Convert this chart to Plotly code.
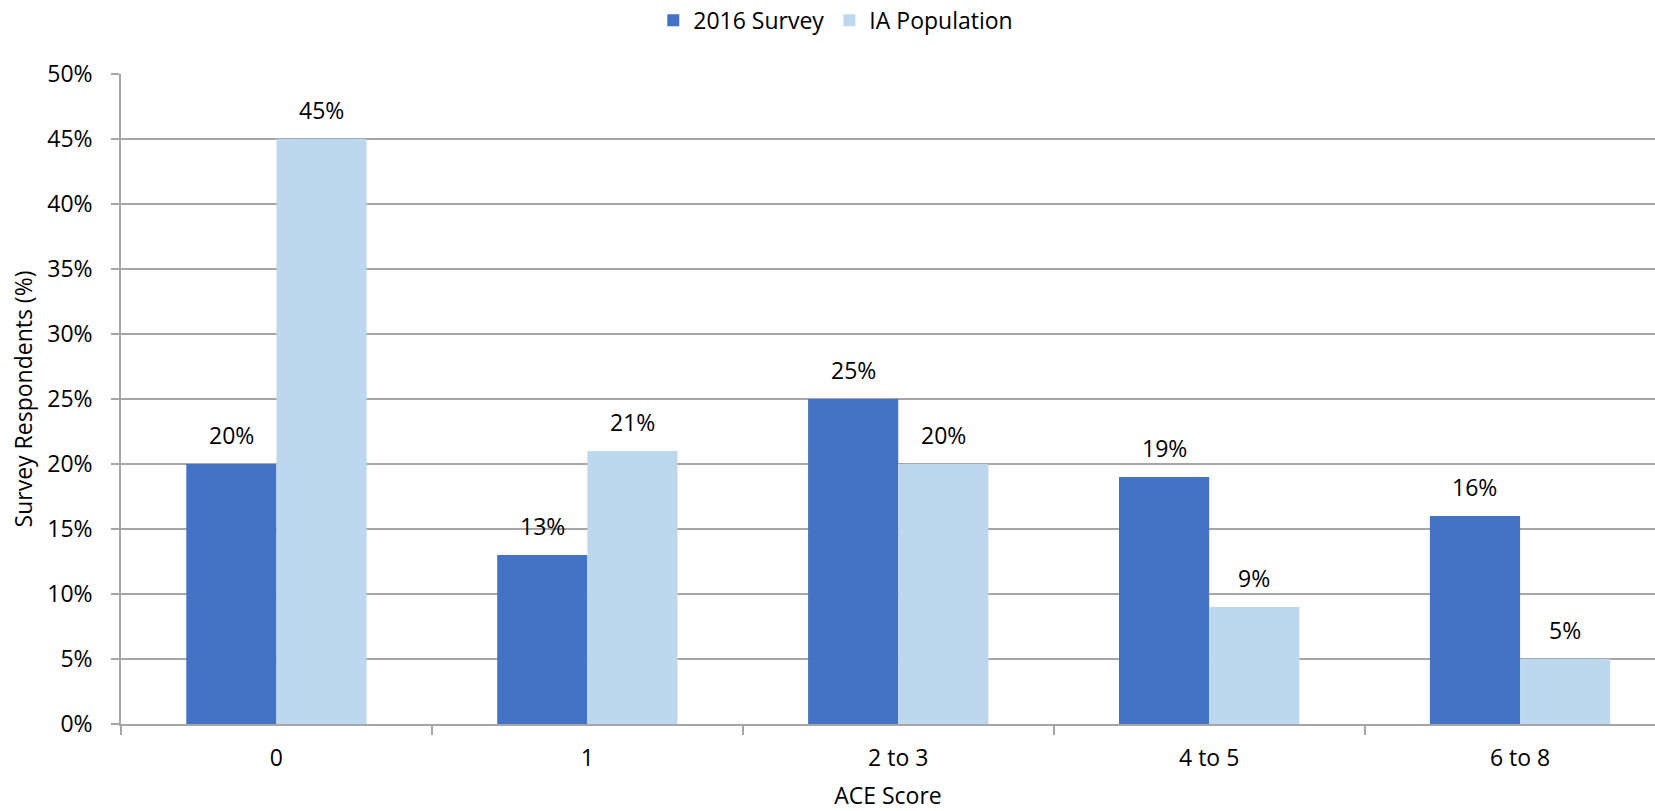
import plotly.graph_objects as go

# ACE score categories and share of respondents (%)
categories = ["0", "1", "2 to 3", "4 to 5", "6 to 8"]
survey_2016 = [20, 13, 25, 19, 16]
ia_population = [45, 21, 20, 9, 5]
y_ticks = [0, 5, 10, 15, 20, 25, 30, 35, 40, 45, 50]

DARK = "#4472C4"
LIGHT = "#BDD7EE"
GRID = "#A6A6A6"
FONT = "Open Sans"
SIZE = 23
BARGAP = 0.42

fig = go.Figure()
fig.add_trace(go.Bar(name="2016 Survey", x=categories, y=survey_2016,
                     marker=dict(color=DARK, line=dict(width=0))))
fig.add_trace(go.Bar(name="IA Population", x=categories, y=ia_population,
                     marker=dict(color=LIGHT, line=dict(width=0))))

# value labels above each bar
half = (1 - BARGAP) / 4
annotations = []
for series, shift in ((survey_2016, -half), (ia_population, half)):
    for i, v in enumerate(series):
        annotations.append(dict(
            x=i + shift, y=v, xref="x", yref="y", text=f"{v}%",
            showarrow=False, yanchor="bottom", yshift=11,
            font=dict(family=FONT, size=SIZE, color="#000000")))

fig.update_layout(
    width=1655, height=811,
    margin=dict(l=121, r=0, t=74, b=87),
    paper_bgcolor="white", plot_bgcolor="white",
    barmode="group", bargap=BARGAP, bargroupgap=0,
    font=dict(family=FONT, size=SIZE, color="#000000"),
    legend=dict(orientation="h", xref="container", x=0.505, xanchor="center",
                yref="container", y=0.975, yanchor="middle",
                font=dict(family=FONT, size=SIZE), itemwidth=30,
                traceorder="normal"),
    annotations=annotations,
    xaxis=dict(
        type="category", range=[-0.5, 4.434], automargin=False,
        showline=True, linecolor=GRID, linewidth=1.5,
        ticks="outside", ticklen=9, tickcolor=GRID, tickwidth=1.5,
        tickson="boundaries", showgrid=False, ticklabelstandoff=13,
        title=dict(text="ACE Score", standoff=30, font=dict(size=SIZE)),
    ),
    yaxis=dict(
        range=[0, 50], tickmode="array", tickvals=y_ticks,
        ticktext=[f"{t}%" for t in y_ticks],
        showline=True, linecolor=GRID, linewidth=1.5,
        ticks="outside", ticklen=8, tickcolor=GRID, tickwidth=1.5,
        showgrid=True, gridcolor=GRID, gridwidth=1.5, zeroline=False,
        ticklabelstandoff=14,
        title=dict(text="Survey Respondents (%)", standoff=8, font=dict(size=SIZE)),
    ),
)

fig.write_html("out.html")
